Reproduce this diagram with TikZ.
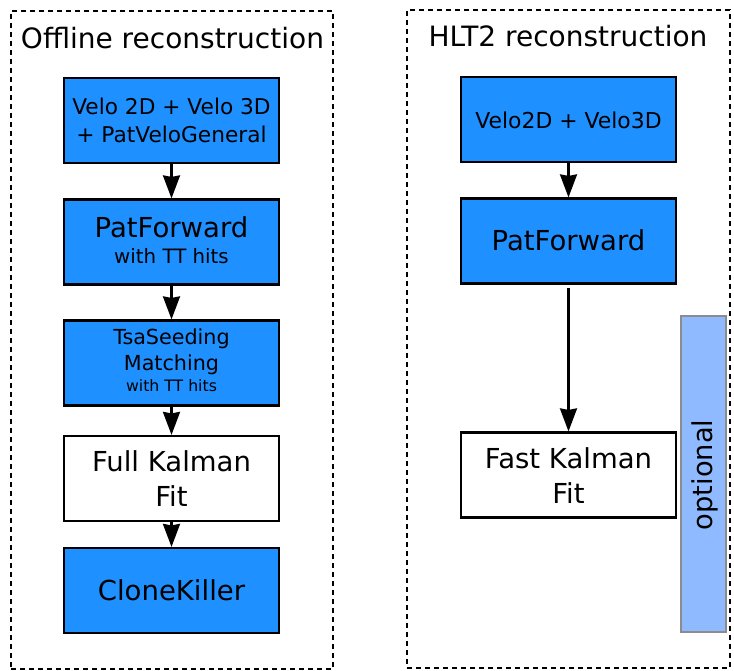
\documentclass[tikz,border=0pt]{standalone}
\usepackage{fontspec}
\setmainfont{DejaVu Sans}
\usetikzlibrary{arrows.meta}
\definecolor{boxblue}{HTML}{1E90FF}
\definecolor{optblue}{HTML}{8FBAFF}
\definecolor{optedge}{HTML}{8C8C8C}
\newcommand\fsz[1]{\fontsize{#1}{#1}\selectfont}
\tikzset{
  frame/.style={draw, line width=2pt, dash pattern=on 5pt off 4pt, inner sep=0pt,
    minimum width=322pt, minimum height=658pt},
  stage/.style={draw, line width=2.2pt, inner sep=0pt, minimum width=215pt, minimum height=85pt},
  bluestage/.style={stage, fill=boxblue},
  whitestage/.style={stage, fill=white},
  txt/.style={anchor=base, inner sep=0pt},
  flow/.style={line width=2.2pt, -{Stealth[length=23pt, width=17pt, inset=1.5pt]}},
}
\begin{document}
\begin{tikzpicture}[x=1pt, y=-1pt]
\useasboundingbox (0,0) rectangle (734,671);

% dashed group frames
\node[frame] (offframe) at (172,340) {};
\node[frame, minimum width=323pt] (hltframe) at (568.5,339) {};

% offline chain
\node[bluestage]  (o1) at (171.5,120.5) {};
\node[bluestage]  (o2) at (171.5,242) {};
\node[bluestage]  (o3) at (171.5,363) {};
\node[whitestage] (o4) at (171.5,478.5) {};
\node[bluestage]  (o5) at (171.5,590.5) {};

% HLT2 chain
\node[bluestage]  (h1) at (568.5,119.5) {};
\node[bluestage]  (h2) at (568.5,241) {};
\node[whitestage] (h3) at (568.5,475) {};

% optional band
\node[draw=optedge, fill=optblue, line width=2pt, inner sep=0pt,
      minimum width=45pt, minimum height=316pt] (opt) at (703.5,474) {};

% titles
\node[txt, font=\fsz{28}] (offtitle) at (172.5,48.3) {Offline reconstruction};
\node[txt, font=\fsz{28}] (hlttitle) at (568,46.7) {HLT2 reconstruction};

% stage labels
\node[txt, font=\fsz{21.7}] (o1a) at (171.5,115) {Velo 2D + Velo 3D};
\node[txt, font=\fsz{21.7}] (o1b) at (171.5,142.7) {+ PatVeloGeneral};
\node[txt, font=\fsz{27.5}] (o2a) at (171.5,237.3) {PatForward};
\node[txt, font=\fsz{19.8}] (o2b) at (171.5,263.3) {with TT hits};
\node[txt, font=\fsz{20.7}] (o3a) at (171.5,344.3) {TsaSeeding};
\node[txt, font=\fsz{20.7}] (o3b) at (171.5,370.7) {Matching};
\node[txt, font=\fsz{15.7}] (o3c) at (171.5,391.7) {with TT hits};
\node[txt, font=\fsz{27.5}] (o4a) at (171.5,471.7) {Full Kalman};
\node[txt, font=\fsz{27.5}] (o4b) at (171.5,506.7) {Fit};
\node[txt, font=\fsz{27.5}] (o5a) at (171.5,600) {CloneKiller};

\node[txt, font=\fsz{21.9}] (h1a) at (568.5,128.3) {Velo2D + Velo3D};
\node[txt, font=\fsz{27.5}] (h2a) at (568.5,250.7) {PatForward};
\node[txt, font=\fsz{27.5}] (h3a) at (568.5,468.3) {Fast Kalman};
\node[txt, font=\fsz{27.5}] (h3b) at (568.5,503.3) {Fit};

\node[txt, font=\fsz{27.3}, rotate=90] (opta) at (712,475) {optional};

% connectors
\draw[flow] (o1.south) -- (o2.north);
\draw[flow] (o2.south) -- (o3.north);
\draw[flow] (o3.south) -- (o4.north);
\draw[flow] (o4.south) -- (o5.north);
\draw[flow] (h1.south) -- (h2.north);
\draw[flow, shorten <=3pt] (h2.south) -- (h3.north);
\end{tikzpicture}
\end{document}
